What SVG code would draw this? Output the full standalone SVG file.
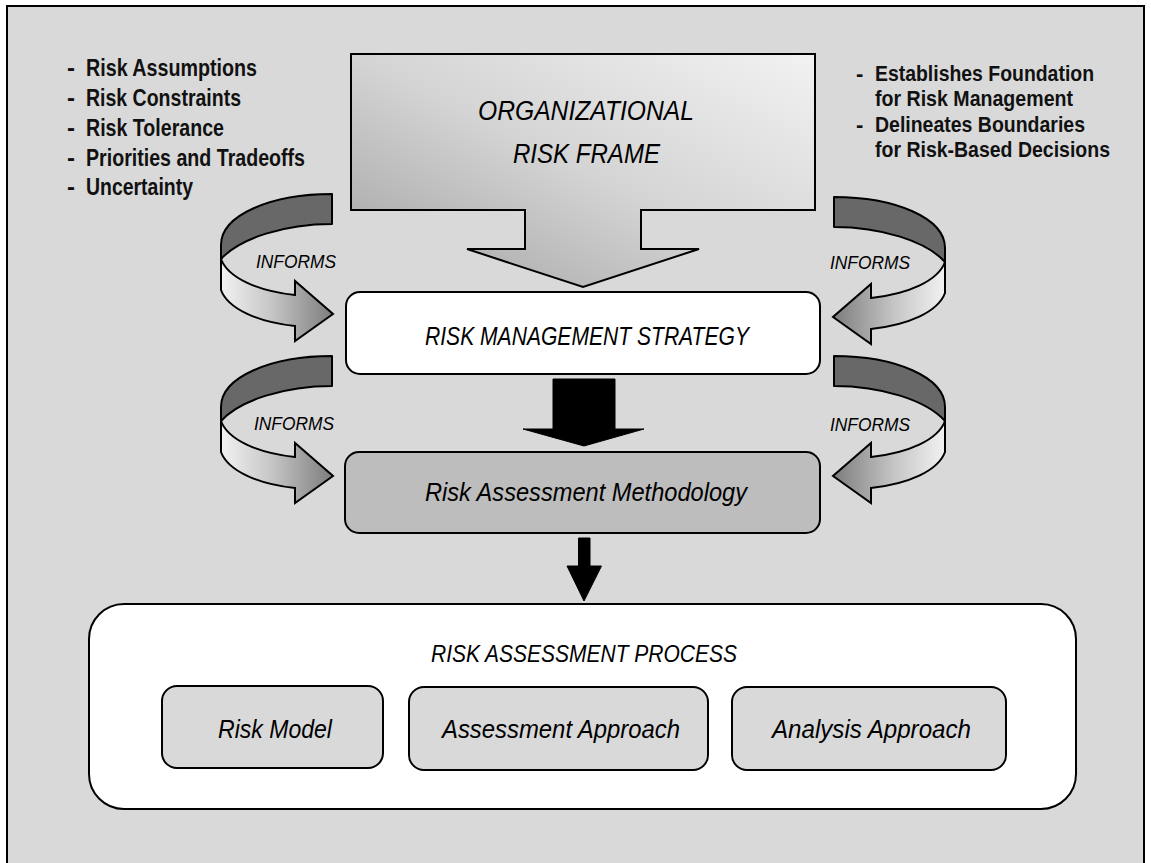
<svg xmlns="http://www.w3.org/2000/svg" width="1151" height="863" viewBox="0 0 1151 863">
<style>
.frame{fill:#d9d9d9;stroke:#000;stroke-width:2}
.band{fill:#686868;stroke:#000;stroke-width:2;stroke-linejoin:round}
.front{fill:url(#curlGrad);stroke:#000;stroke-width:2;stroke-linejoin:miter}
.box{stroke:#000;stroke-width:2}
.white{fill:#fff}
.gray{fill:#bdbdbd}
.sub{fill:#d9d9d9}
.black{fill:#000;stroke:#000;stroke-width:1}
.list{font-family:"Liberation Sans",Arial,sans-serif;font-weight:bold;font-size:24px;fill:#111}
.rlist{font-family:"Liberation Sans",Arial,sans-serif;font-weight:bold;font-size:22px;fill:#111}
.lbl{font-family:"Liberation Sans",Arial,sans-serif;font-style:italic;fill:#000}
.inf{font-family:"Liberation Sans",Arial,sans-serif;font-style:italic;font-size:19px;fill:#000}
</style>
<defs>
<linearGradient id="orgGrad" x1="0" y1="1" x2="1" y2="0">
<stop offset="0" stop-color="#a0a0a0"/>
<stop offset="0.5" stop-color="#d4d4d4"/>
<stop offset="1" stop-color="#f2f2f2"/>
</linearGradient>
<linearGradient id="curlGrad" gradientUnits="userSpaceOnUse" x1="221" y1="0" x2="333" y2="0">
<stop offset="0" stop-color="#f2f2f2"/>
<stop offset="0.45" stop-color="#c6c6c6"/>
<stop offset="1" stop-color="#7c7c7c"/>
</linearGradient>
<g id="curl">
<path class="band" d="M332,194 C271,194 221,215 221,245 L221,259 C240,238 285,224 332,224 Z"/>
<path class="front" d="M221,259 C228,278 258,291 295,295 L295,281 L333,314 L295,341 L295,326 C258,322 228,309 221,290 Z"/>
</g>
</defs>

<rect class="frame" x="7" y="6" width="1137" height="875"/>

<g id="left-list">
<text class="list" x="67" y="76">-</text><text class="list" x="86" y="76" textLength="171" lengthAdjust="spacingAndGlyphs">Risk Assumptions</text>
<text class="list" x="67" y="106">-</text><text class="list" x="86" y="106" textLength="155" lengthAdjust="spacingAndGlyphs">Risk Constraints</text>
<text class="list" x="67" y="136">-</text><text class="list" x="86" y="136" textLength="138" lengthAdjust="spacingAndGlyphs">Risk Tolerance</text>
<text class="list" x="67" y="166">-</text><text class="list" x="86" y="166" textLength="219" lengthAdjust="spacingAndGlyphs">Priorities and Tradeoffs</text>
<text class="list" x="67" y="195">-</text><text class="list" x="86" y="195" textLength="107" lengthAdjust="spacingAndGlyphs">Uncertainty</text>
</g>

<g id="right-list">
<text class="rlist" x="856" y="81">-</text><text class="rlist" x="875" y="81" textLength="219" lengthAdjust="spacingAndGlyphs">Establishes Foundation</text>
<text class="rlist" x="875" y="106" textLength="198" lengthAdjust="spacingAndGlyphs">for Risk Management</text>
<text class="rlist" x="856" y="132">-</text><text class="rlist" x="875" y="132" textLength="210" lengthAdjust="spacingAndGlyphs">Delineates Boundaries</text>
<text class="rlist" x="875" y="157" textLength="235" lengthAdjust="spacingAndGlyphs">for Risk-Based Decisions</text>
</g>

<g id="org-risk-frame">
<polygon points="351,54 815,54 815,210 641,210 641,249 699,249 583,287 467,249 525,249 525,210 351,210" fill="url(#orgGrad)" stroke="#000" stroke-width="2"/>
<text class="lbl" x="478" y="120" font-size="27" textLength="216" lengthAdjust="spacingAndGlyphs">ORGANIZATIONAL</text>
<text class="lbl" x="513" y="163" font-size="27" textLength="147" lengthAdjust="spacingAndGlyphs">RISK FRAME</text>
</g>

<g id="risk-management-strategy">
<rect class="box white" x="346" y="292" width="474" height="82" rx="14"/>
<text class="lbl" x="425" y="345" font-size="25" textLength="324" lengthAdjust="spacingAndGlyphs">RISK MANAGEMENT STRATEGY</text>
</g>

<g id="risk-assessment-methodology">
<rect class="box gray" x="345" y="452" width="475" height="81" rx="14"/>
<text class="lbl" x="425" y="501" font-size="25" textLength="322" lengthAdjust="spacingAndGlyphs">Risk Assessment Methodology</text>
</g>

<g id="risk-assessment-process">
<rect class="box white" x="89" y="604" width="987" height="205" rx="35"/>
<text class="lbl" x="431" y="662" font-size="24" textLength="306" lengthAdjust="spacingAndGlyphs">RISK ASSESSMENT PROCESS</text>
</g>

<g id="risk-model">
<rect class="box sub" x="162" y="686" width="221" height="82" rx="15"/>
<text class="lbl" x="218" y="738" font-size="25" textLength="114" lengthAdjust="spacingAndGlyphs">Risk Model</text>
</g>

<g id="assessment-approach">
<rect class="box sub" x="409" y="687" width="299" height="83" rx="15"/>
<text class="lbl" x="442" y="738" font-size="25" textLength="238" lengthAdjust="spacingAndGlyphs">Assessment Approach</text>
</g>

<g id="analysis-approach">
<rect class="box sub" x="732" y="687" width="274" height="83" rx="15"/>
<text class="lbl" x="772" y="738" font-size="25" textLength="199" lengthAdjust="spacingAndGlyphs">Analysis Approach</text>
</g>

<g id="connectors">
<use href="#curl"/>
<use href="#curl" transform="translate(0,162)"/>
<use href="#curl" transform="translate(1166,3) scale(-1,1)"/>
<use href="#curl" transform="translate(1166,162) scale(-1,1)"/>
<text class="inf" x="256" y="268" textLength="80" lengthAdjust="spacingAndGlyphs">INFORMS</text>
<text class="inf" x="254" y="430" textLength="80" lengthAdjust="spacingAndGlyphs">INFORMS</text>
<text class="inf" x="830" y="269" textLength="80" lengthAdjust="spacingAndGlyphs">INFORMS</text>
<text class="inf" x="830" y="431" textLength="80" lengthAdjust="spacingAndGlyphs">INFORMS</text>
<polygon class="black" points="553,379 615,379 615,429 644,429 584,446 523,429 553,429"/>
<polygon class="black" points="578.5,538 590,538 590,566 601.5,566 584,601 567,566 578.5,566"/>
</g>
</svg>
